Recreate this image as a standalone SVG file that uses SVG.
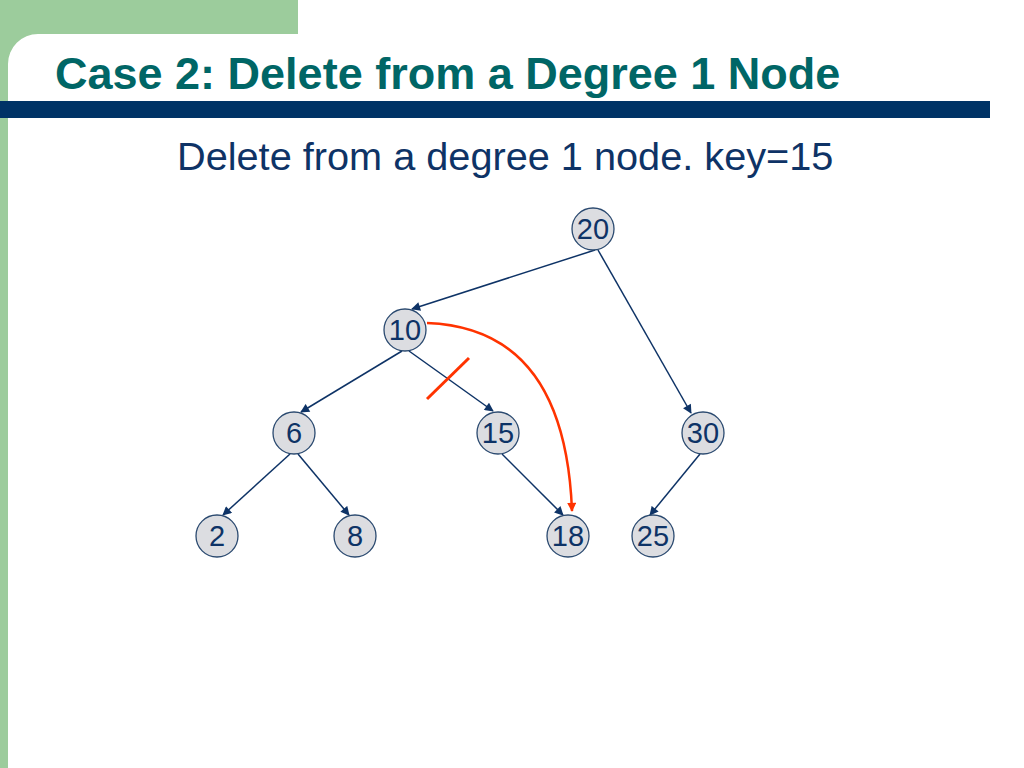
<svg xmlns="http://www.w3.org/2000/svg" width="1024" height="768" viewBox="0 0 1024 768">
<defs>
<style>
.node circle{fill:#dcdde1;stroke:#2b4a70;stroke-width:1.3}
.node text{font-family:"Liberation Sans",Arial,sans-serif;font-size:29px;fill:#0e3366;text-anchor:middle}
.edge{stroke:#0e3366;stroke-width:1.5;fill:none;marker-end:url(#arr)}
</style>
<marker id="arr" viewBox="0 0 10 10" refX="9" refY="5" markerWidth="10" markerHeight="9" markerUnits="userSpaceOnUse" orient="auto">
<path d="M0,0 L10,5 L0,10 z" fill="#0e3366"/>
</marker>
<marker id="arrR" viewBox="0 0 10 10" refX="9" refY="5" markerWidth="10" markerHeight="9" markerUnits="userSpaceOnUse" orient="auto">
<path d="M0,0 L10,5 L0,10 z" fill="#ff3300"/>
</marker>
</defs>
<rect width="1024" height="768" fill="#ffffff"/>
<g id="background">
<rect x="0" y="0" width="298" height="34" fill="#9ccc9c"/>
<rect x="0" y="0" width="8" height="768" fill="#9ccc9c"/>
<path d="M8,34 L8,64 A30,30 0 0 1 38,34 Z" fill="#9ccc9c"/>
<rect x="0" y="101" width="990" height="17" fill="#003366"/>
</g>
<text x="55" y="89" font-family="Liberation Sans,Arial,sans-serif" font-weight="bold" font-size="45" fill="#006666">Case 2: Delete from a Degree 1 Node</text>
<text x="177" y="170" font-family="Liberation Sans,Arial,sans-serif" font-size="39.7" fill="#0e3366">Delete from a degree 1 node. key=15</text>
<g id="connectors">
<line class="edge" x1="595" y1="250" x2="412" y2="309"/>
<line class="edge" x1="598" y1="250" x2="691" y2="413"/>
<line class="edge" x1="402" y1="351" x2="301" y2="412"/>
<line class="edge" x1="409" y1="351" x2="493" y2="411"/>
<line class="edge" x1="290" y1="454" x2="223" y2="515"/>
<line class="edge" x1="298" y1="454" x2="349" y2="515"/>
<line class="edge" x1="502" y1="454" x2="563" y2="515"/>
<line class="edge" x1="700" y1="454" x2="650" y2="515"/>
<path d="M427,323 Q565,328 572,511" stroke="#ff3300" stroke-width="2.5" fill="none" marker-end="url(#arrR)"/>
<line x1="427" y1="399" x2="469" y2="358" stroke="#ff3300" stroke-width="3"/>
</g>
<g id="n20" class="node"><circle cx="593" cy="229" r="21"/><text x="593" y="239">20</text></g>
<g id="n10" class="node"><circle cx="405" cy="330" r="21"/><text x="405" y="340">10</text></g>
<g id="n6" class="node"><circle cx="294" cy="433" r="21"/><text x="294" y="443">6</text></g>
<g id="n15" class="node"><circle cx="498" cy="433" r="21"/><text x="498" y="443">15</text></g>
<g id="n30" class="node"><circle cx="703" cy="433" r="21"/><text x="703" y="443">30</text></g>
<g id="n2" class="node"><circle cx="217" cy="536" r="21"/><text x="217" y="546">2</text></g>
<g id="n8" class="node"><circle cx="355" cy="536" r="21"/><text x="355" y="546">8</text></g>
<g id="n18" class="node"><circle cx="568" cy="536" r="21"/><text x="568" y="546">18</text></g>
<g id="n25" class="node"><circle cx="653" cy="536" r="21"/><text x="653" y="546">25</text></g>
</svg>
